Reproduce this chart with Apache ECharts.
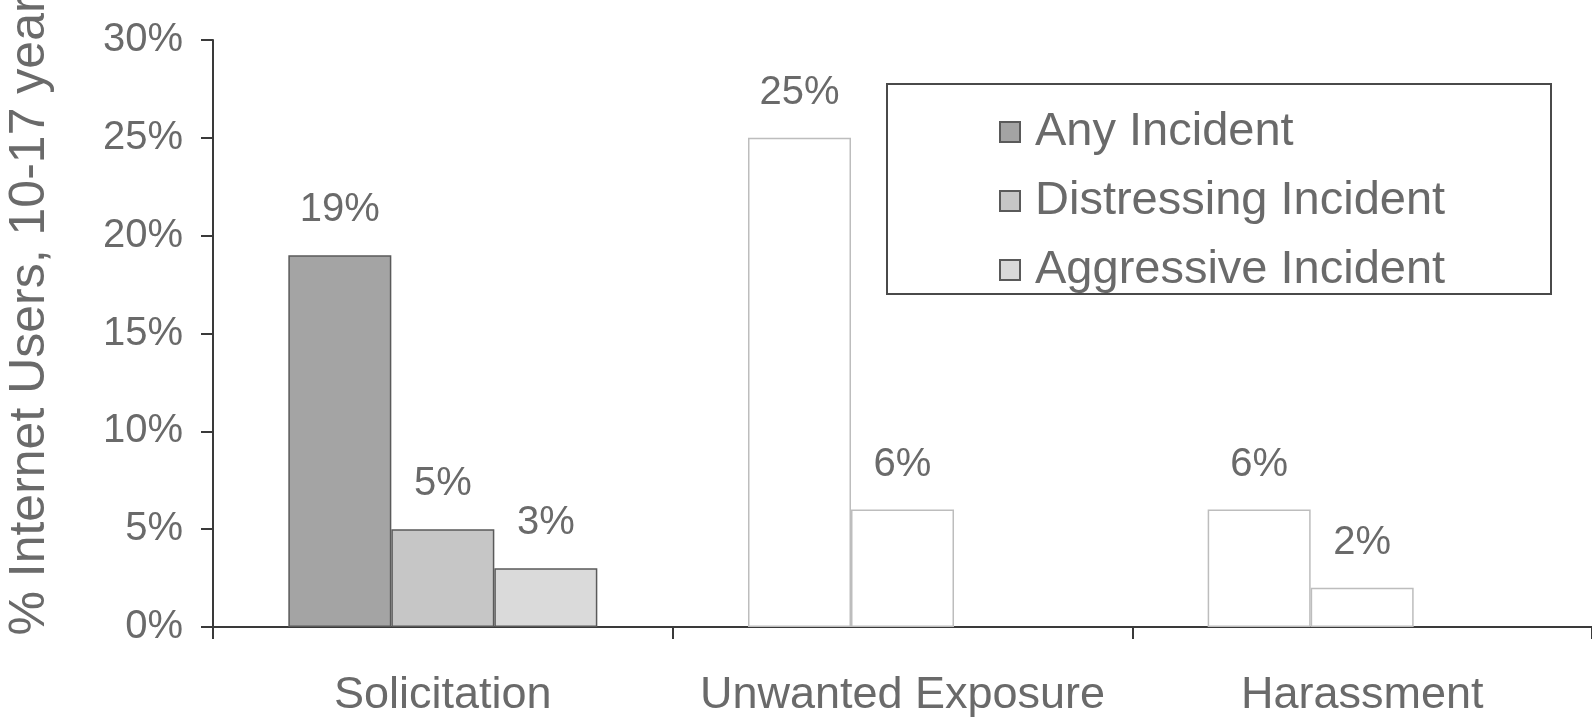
<!DOCTYPE html>
<html>
<head>
<meta charset="utf-8">
<script src="https://cdn.jsdelivr.net/npm/echarts@6/dist/echarts.min.js"></script>
<style>
    html, body { margin: 0; padding: 0; background: #fff; }
    #chart { width: 1592px; height: 726px; }
</style>
</head>
<body>
<div id="chart"></div>
<script>
    // categories and values
    var categories = ['Solicitation', 'Unwanted Exposure', 'Harassment'];
    var seriesNames = ['Any Incident', 'Distressing Incident', 'Aggressive Incident'];
    var anyIncident = [19, 25, 6];
    var distressingIncident = [5, 6, 2];
    var aggressiveIncident = [3, null, null];
    var yTicks = [0, 5, 10, 15, 20, 25, 30];

    var fills = ['#a4a4a4', '#c6c6c6', '#dadada'];
    var textGray = '#6a6a6a';
    var font = 'Liberation Sans, Arial, sans-serif';

    // only the first group keeps its grey fill, the rest are washed out in the scan
    function makeData(values) {
        return values.map(function (v, i) {
            if (v === null) return null;
            if (i === 0) return v;
            return {
                value: v,
                itemStyle: { color: '#ffffff', borderColor: '#bdbdbd', borderWidth: 1.5 }
            };
        });
    }

    var seriesValues = [anyIncident, distressingIncident, aggressiveIncident];

    var myChart = echarts.init(document.getElementById('chart'));
    var option = {
        backgroundColor: '#fff',
        animation: false,
        grid: { left: 213, right: 0, top: 40, bottom: 99, outerBoundsMode: 'none' },
        legend: {
            orient: 'vertical',
            left: 994,
            top: 102,
            itemWidth: 20,
            itemHeight: 20,
            itemGap: 19,
            icon: 'rect',
            data: seriesNames,
            textStyle: { fontFamily: font, fontSize: 47, color: textGray, lineHeight: 50, padding: [0, 0, 0, 10] }
        },
        graphic: [{
            type: 'rect',
            shape: { x: 887, y: 84, width: 664, height: 210 },
            style: { fill: 'none', stroke: '#4a4a4a', lineWidth: 2 },
            z: 1
        }],
        xAxis: {
            type: 'category',
            data: categories,
            boundaryGap: true,
            axisLine: { lineStyle: { color: '#3a3a3a', width: 2 } },
            axisTick: { show: true, interval: 0, length: 12, lineStyle: { color: '#3a3a3a', width: 2 } },
            axisLabel: { interval: 0, fontFamily: font, fontSize: 45, color: textGray, margin: 46 }
        },
        yAxis: {
            type: 'value',
            min: yTicks[0],
            max: yTicks[yTicks.length - 1],
            interval: 5,
            name: '% Internet Users, 10-17 years',
            nameLocation: 'middle',
            nameGap: 158,
            nameTextStyle: { fontFamily: font, fontSize: 50, color: textGray, padding: [0, 0, 0, 60] },
            axisLine: { show: true, lineStyle: { color: '#3a3a3a', width: 2 } },
            axisTick: { show: true, length: 12, lineStyle: { color: '#3a3a3a', width: 2 } },
            splitLine: { show: false },
            axisLabel: {
                fontFamily: font, fontSize: 40, color: textGray, margin: 30,
                formatter: '{value}%'
            }
        },
        series: seriesNames.map(function (name, k) {
            return {
                name: name,
                type: 'bar',
                barWidth: 103,
                barGap: '0%',
                data: makeData(seriesValues[k]),
                itemStyle: { color: fills[k], borderColor: '#5a5a5a', borderWidth: 1.5 },
                label: {
                    show: true,
                    position: 'top',
                    distance: 25,
                    formatter: '{c}%',
                    fontFamily: font,
                    fontSize: 40,
                    color: textGray
                }
            };
        })
    };
    myChart.setOption(option);
</script>
</body>
</html>
